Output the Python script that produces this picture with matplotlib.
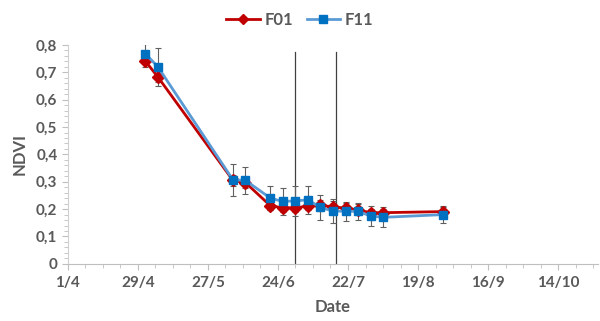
import numpy as np
import pandas as pd
import matplotlib
matplotlib.use("Agg")
import matplotlib.pyplot as plt
import matplotlib.dates as mdates

plt.rcParams['font.family'] = ['Lato', 'DejaVu Sans']

# sampling dates (day/month)
dates = ["2/5", "7/5", "6/6", "11/6", "21/6", "26/6", "1/7", "6/7",
         "11/7", "16/7", "21/7", "26/7", "31/7", "5/8", "29/8"]

f01 = [0.741, 0.683, 0.305, 0.297, 0.212, 0.205, 0.205, 0.211,
       0.214, 0.208, 0.204, 0.197, 0.187, 0.187, 0.191]
f01_err = [0.02, 0.02, 0.02, 0.02, 0.015, 0.015, 0.015, 0.015,
           0.02, 0.02, 0.02, 0.02, 0.015, 0.015, 0.015]

f11 = [0.768, 0.72, 0.307, 0.305, 0.240, 0.228, 0.230, 0.234,
       0.206, 0.193, 0.192, 0.192, 0.175, 0.170, 0.180]
f11_err = [0.035, 0.07, 0.058, 0.05, 0.045, 0.048, 0.055, 0.05,
           0.047, 0.043, 0.035, 0.032, 0.035, 0.036, 0.031]

# vertical marker lines
vlines = ["1/7", "17/7"]

tick_dates = ["1/4", "29/4", "27/5", "24/6", "22/7", "19/8", "16/9", "14/10"]


def to_date(s):
    d, m = s.split("/")
    return pd.Timestamp(year=2019, month=int(m), day=int(d))


x = [to_date(s) for s in dates]

fig = plt.figure(figsize=(6.0, 3.21), dpi=100)
ax = fig.add_axes([0.113, 0.178, 0.884, 0.682])

grey = "#595959"

for v in vlines:
    ax.axvline(to_date(v), ymin=0, ymax=0.968, color="#404040", lw=0.9, zorder=1)

ax.errorbar(x, f01, yerr=f01_err, fmt="none", ecolor="#606060", elinewidth=0.8,
            capsize=2.5, capthick=0.8, zorder=2)
ax.errorbar(x, f11, yerr=f11_err, fmt="none", ecolor="#606060", elinewidth=0.8,
            capsize=2.5, capthick=0.8, zorder=2)

ax.plot(x, f01, color="#C00000", lw=2, marker="D", ms=6, mfc="#C00000",
        mec="#C00000", label="F01", zorder=3)
ax.plot(x, f11, color="#5B9BD5", lw=2, marker="s", ms=6, mfc="#0070C0",
        mec="#0070C0", label="F11", zorder=4)

ax.set_ylim(0, 0.8)
ax.set_xlim(to_date("1/4"), to_date("30/10"))

ax.set_yticks(np.arange(0, 0.81, 0.1))
ax.set_yticklabels(["0"] + [("%.1f" % v).replace(".", ",") for v in np.arange(0.1, 0.81, 0.1)])
ax.set_yticks(np.arange(0, 0.81, 0.02), minor=True)

ax.set_xticks([to_date(s) for s in tick_dates])
ax.set_xticklabels(tick_dates)
ax.set_xticks(pd.date_range(to_date("1/4"), to_date("30/10"), freq="7D"), minor=True)

for side in ["top", "right"]:
    ax.spines[side].set_visible(False)
ax.spines["left"].set_color("#d0d0d0")
ax.spines["bottom"].set_color("#bfbfbf")

ax.tick_params(axis="both", which="both", color="#bfbfbf", labelcolor=grey)
ax.tick_params(axis="both", which="major", length=4, labelsize=11)
ax.tick_params(axis="x", which="major", pad=5)
ax.tick_params(axis="both", which="minor", length=3)
for lab in ax.get_xticklabels() + ax.get_yticklabels():
    lab.set_fontweight("bold")

ax.set_xlabel("Date", fontsize=12, fontweight="bold", color=grey, labelpad=6)
ax.set_ylabel("NDVI", fontsize=12, fontweight="bold", color=grey, labelpad=6)

leg = fig.legend(loc="upper center", bbox_to_anchor=(0.5, 1.01), ncol=2,
                 frameon=False, handlelength=2.0, handletextpad=0.3,
                 columnspacing=0.8, markerscale=0.85,
                 prop={"weight": "bold", "size": 12})
for t in leg.get_texts():
    t.set_color(grey)

fig.savefig("out.png", dpi=100)
